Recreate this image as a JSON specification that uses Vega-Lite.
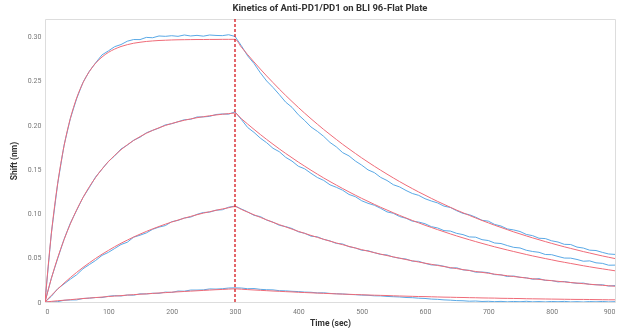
{
  "$schema": "https://vega.github.io/schema/vega-lite/v6.json",
  "width": 570,
  "height": 283,
  "autosize": "none",
  "padding": {"left": 45, "top": 19, "right": 14, "bottom": 31},
  "background": "white",
  "title": {"text": "Kinetics of Anti-PD1/PD1 on BLI 96-Flat Plate", "font": "Roboto", "fontSize": 9.5, "fontWeight": "bold", "color": "#333333", "anchor": "middle", "offset": 6},
  "config": {
    "view": {"stroke": "#dddddd", "strokeWidth": 1},
    "axis": {"grid": false, "domain": false, "ticks": false, "labelFont": "Roboto", "labelFontSize": 7, "labelColor": "#777777", "titleFont": "Roboto", "titleFontSize": 8.5, "titleFontWeight": "bold", "titleColor": "#333333"}
  },
  "datasets": {
    "curves": [
      {"c":"A","t":0,"f":0,"o":0},{"c":"A","t":10,"f":0.0770,"o":0.0776},{"c":"A","t":20,"f":0.1340,"o":0.1336},{"c":"A","t":30,"f":0.1762,"o":0.1770},{"c":"A","t":40,"f":0.2075,"o":0.2073},{"c":"A","t":50,"f":0.2307,"o":0.2300},{"c":"A","t":60,"f":0.2479,"o":0.2484},{"c":"A","t":70,"f":0.2606,"o":0.2609},{"c":"A","t":80,"f":0.2701,"o":0.2705},{"c":"A","t":90,"f":0.2770,"o":0.2794},{"c":"A","t":100,"f":0.2822,"o":0.2839},{"c":"A","t":110,"f":0.2860,"o":0.2887},{"c":"A","t":120,"f":0.2889,"o":0.2911},{"c":"A","t":130,"f":0.2910,"o":0.2949},{"c":"A","t":140,"f":0.2926,"o":0.2968},{"c":"A","t":150,"f":0.2937,"o":0.2967},{"c":"A","t":160,"f":0.2946,"o":0.2992},{"c":"A","t":170,"f":0.2952,"o":0.2988},{"c":"A","t":180,"f":0.2957,"o":0.3008},{"c":"A","t":190,"f":0.2960,"o":0.3004},{"c":"A","t":200,"f":0.2963,"o":0.3011},{"c":"A","t":210,"f":0.2965,"o":0.3004},{"c":"A","t":220,"f":0.2966,"o":0.3019},{"c":"A","t":230,"f":0.2967,"o":0.3008},{"c":"A","t":240,"f":0.2968,"o":0.3015},{"c":"A","t":250,"f":0.2968,"o":0.3006},{"c":"A","t":260,"f":0.2969,"o":0.3019},{"c":"A","t":270,"f":0.2969,"o":0.3014},{"c":"A","t":280,"f":0.2970,"o":0.3012},{"c":"A","t":290,"f":0.2970,"o":0.3022},{"c":"A","t":300,"f":0.2970,"o":0.3003},
      {"c":"A","t":310,"f":0.2882,"o":0.2898},{"c":"A","t":320,"f":0.2797,"o":0.2783},{"c":"A","t":330,"f":0.2714,"o":0.2697},{"c":"A","t":340,"f":0.2634,"o":0.2592},{"c":"A","t":350,"f":0.2556,"o":0.2499},{"c":"A","t":360,"f":0.2481,"o":0.2426},{"c":"A","t":370,"f":0.2407,"o":0.2345},{"c":"A","t":380,"f":0.2336,"o":0.2260},{"c":"A","t":390,"f":0.2267,"o":0.2201},{"c":"A","t":400,"f":0.2200,"o":0.2117},{"c":"A","t":410,"f":0.2135,"o":0.2052},{"c":"A","t":420,"f":0.2072,"o":0.1979},{"c":"A","t":430,"f":0.2011,"o":0.1930},{"c":"A","t":440,"f":0.1951,"o":0.1873},{"c":"A","t":450,"f":0.1894,"o":0.1804},{"c":"A","t":460,"f":0.1838,"o":0.1754},{"c":"A","t":470,"f":0.1783,"o":0.1689},{"c":"A","t":480,"f":0.1731,"o":0.1652},{"c":"A","t":490,"f":0.1680,"o":0.1594},{"c":"A","t":500,"f":0.1630,"o":0.1548},{"c":"A","t":510,"f":0.1582,"o":0.1494},{"c":"A","t":520,"f":0.1535,"o":0.1463},{"c":"A","t":530,"f":0.1490,"o":0.1409},{"c":"A","t":540,"f":0.1446,"o":0.1374},{"c":"A","t":550,"f":0.1403,"o":0.1326},{"c":"A","t":560,"f":0.1361,"o":0.1301},{"c":"A","t":570,"f":0.1321,"o":0.1261},{"c":"A","t":580,"f":0.1282,"o":0.1227},{"c":"A","t":590,"f":0.1244,"o":0.1206},{"c":"A","t":600,"f":0.1208,"o":0.1168},{"c":"A","t":610,"f":0.1172,"o":0.1142},{"c":"A","t":620,"f":0.1137,"o":0.1120},{"c":"A","t":630,"f":0.1104,"o":0.1084},{"c":"A","t":640,"f":0.1071,"o":0.1069},{"c":"A","t":650,"f":0.1039,"o":0.1032},{"c":"A","t":660,"f":0.1009,"o":0.1002},{"c":"A","t":670,"f":0.0979,"o":0.0987},{"c":"A","t":680,"f":0.0950,"o":0.0959},{"c":"A","t":690,"f":0.0922,"o":0.0924},{"c":"A","t":700,"f":0.0895,"o":0.0914},{"c":"A","t":710,"f":0.0868,"o":0.0877},{"c":"A","t":720,"f":0.0843,"o":0.0859},{"c":"A","t":730,"f":0.0818,"o":0.0826},{"c":"A","t":740,"f":0.0793,"o":0.0815},{"c":"A","t":750,"f":0.0770,"o":0.0797},{"c":"A","t":760,"f":0.0747,"o":0.0764},{"c":"A","t":770,"f":0.0725,"o":0.0750},{"c":"A","t":780,"f":0.0704,"o":0.0721},{"c":"A","t":790,"f":0.0683,"o":0.0717},{"c":"A","t":800,"f":0.0663,"o":0.0692},{"c":"A","t":810,"f":0.0643,"o":0.0678},{"c":"A","t":820,"f":0.0624,"o":0.0652},{"c":"A","t":830,"f":0.0606,"o":0.0650},{"c":"A","t":840,"f":0.0588,"o":0.0621},{"c":"A","t":850,"f":0.0570,"o":0.0610},{"c":"A","t":860,"f":0.0554,"o":0.0586},{"c":"A","t":870,"f":0.0537,"o":0.0582},{"c":"A","t":880,"f":0.0521,"o":0.0561},{"c":"A","t":890,"f":0.0506,"o":0.0543},{"c":"A","t":900,"f":0.0491,"o":0.0538},
      {"c":"B","t":0,"f":0,"o":0},{"c":"B","t":10,"f":0.0266,"o":0.0268},{"c":"B","t":20,"f":0.0499,"o":0.0491},{"c":"B","t":30,"f":0.0704,"o":0.0708},{"c":"B","t":40,"f":0.0884,"o":0.0891},{"c":"B","t":50,"f":0.1042,"o":0.1037},{"c":"B","t":60,"f":0.1181,"o":0.1182},{"c":"B","t":70,"f":0.1303,"o":0.1294},{"c":"B","t":80,"f":0.1409,"o":0.1415},{"c":"B","t":90,"f":0.1503,"o":0.1502},{"c":"B","t":100,"f":0.1586,"o":0.1589},{"c":"B","t":110,"f":0.1658,"o":0.1652},{"c":"B","t":120,"f":0.1722,"o":0.1730},{"c":"B","t":130,"f":0.1778,"o":0.1774},{"c":"B","t":140,"f":0.1827,"o":0.1829},{"c":"B","t":150,"f":0.1870,"o":0.1863},{"c":"B","t":160,"f":0.1908,"o":0.1913},{"c":"B","t":170,"f":0.1941,"o":0.1941},{"c":"B","t":180,"f":0.1970,"o":0.1967},{"c":"B","t":190,"f":0.1996,"o":0.2003},{"c":"B","t":200,"f":0.2018,"o":0.2016},{"c":"B","t":210,"f":0.2038,"o":0.2038},{"c":"B","t":220,"f":0.2055,"o":0.2061},{"c":"B","t":230,"f":0.2070,"o":0.2066},{"c":"B","t":240,"f":0.2084,"o":0.2092},{"c":"B","t":250,"f":0.2095,"o":0.2093},{"c":"B","t":260,"f":0.2106,"o":0.2099},{"c":"B","t":270,"f":0.2115,"o":0.2120},{"c":"B","t":280,"f":0.2123,"o":0.2126},{"c":"B","t":290,"f":0.2130,"o":0.2124},{"c":"B","t":300,"f":0.2136,"o":0.2150},
      {"c":"B","t":310,"f":0.2073,"o":0.2064},{"c":"B","t":320,"f":0.2012,"o":0.1973},{"c":"B","t":330,"f":0.1952,"o":0.1918},{"c":"B","t":340,"f":0.1894,"o":0.1853},{"c":"B","t":350,"f":0.1838,"o":0.1801},{"c":"B","t":360,"f":0.1784,"o":0.1738},{"c":"B","t":370,"f":0.1731,"o":0.1699},{"c":"B","t":380,"f":0.1680,"o":0.1636},{"c":"B","t":390,"f":0.1631,"o":0.1593},{"c":"B","t":400,"f":0.1582,"o":0.1535},{"c":"B","t":410,"f":0.1536,"o":0.1506},{"c":"B","t":420,"f":0.1490,"o":0.1455},{"c":"B","t":430,"f":0.1446,"o":0.1408},{"c":"B","t":440,"f":0.1403,"o":0.1375},{"c":"B","t":450,"f":0.1362,"o":0.1325},{"c":"B","t":460,"f":0.1322,"o":0.1297},{"c":"B","t":470,"f":0.1283,"o":0.1264},{"c":"B","t":480,"f":0.1245,"o":0.1216},{"c":"B","t":490,"f":0.1208,"o":0.1191},{"c":"B","t":500,"f":0.1172,"o":0.1145},{"c":"B","t":510,"f":0.1138,"o":0.1116},{"c":"B","t":520,"f":0.1104,"o":0.1094},{"c":"B","t":530,"f":0.1071,"o":0.1059},{"c":"B","t":540,"f":0.1040,"o":0.1019},{"c":"B","t":550,"f":0.1009,"o":0.1003},{"c":"B","t":560,"f":0.0979,"o":0.0966},{"c":"B","t":570,"f":0.0950,"o":0.0947},{"c":"B","t":580,"f":0.0922,"o":0.0914},{"c":"B","t":590,"f":0.0895,"o":0.0904},{"c":"B","t":600,"f":0.0868,"o":0.0885},{"c":"B","t":610,"f":0.0843,"o":0.0852},{"c":"B","t":620,"f":0.0818,"o":0.0837},{"c":"B","t":630,"f":0.0794,"o":0.0807},{"c":"B","t":640,"f":0.0770,"o":0.0802},{"c":"B","t":650,"f":0.0747,"o":0.0776},{"c":"B","t":660,"f":0.0725,"o":0.0762},{"c":"B","t":670,"f":0.0704,"o":0.0736},{"c":"B","t":680,"f":0.0683,"o":0.0733},{"c":"B","t":690,"f":0.0663,"o":0.0705},{"c":"B","t":700,"f":0.0643,"o":0.0695},{"c":"B","t":710,"f":0.0624,"o":0.0667},{"c":"B","t":720,"f":0.0606,"o":0.0661},{"c":"B","t":730,"f":0.0588,"o":0.0638},{"c":"B","t":740,"f":0.0571,"o":0.0618},{"c":"B","t":750,"f":0.0554,"o":0.0611},{"c":"B","t":760,"f":0.0537,"o":0.0585},{"c":"B","t":770,"f":0.0521,"o":0.0571},{"c":"B","t":780,"f":0.0506,"o":0.0562},{"c":"B","t":790,"f":0.0491,"o":0.0537},{"c":"B","t":800,"f":0.0477,"o":0.0535},{"c":"B","t":810,"f":0.0462,"o":0.0515},{"c":"B","t":820,"f":0.0449,"o":0.0497},{"c":"B","t":830,"f":0.0436,"o":0.0496},{"c":"B","t":840,"f":0.0423,"o":0.0481},{"c":"B","t":850,"f":0.0410,"o":0.0461},{"c":"B","t":860,"f":0.0398,"o":0.0465},{"c":"B","t":870,"f":0.0386,"o":0.0443},{"c":"B","t":880,"f":0.0375,"o":0.0437},{"c":"B","t":890,"f":0.0364,"o":0.0416},{"c":"B","t":900,"f":0.0353,"o":0.0417},
      {"c":"C","t":0,"f":0,"o":0},{"c":"C","t":10,"f":0.0075,"o":0.0064},{"c":"C","t":20,"f":0.0146,"o":0.0149},{"c":"C","t":30,"f":0.0213,"o":0.0204},{"c":"C","t":40,"f":0.0276,"o":0.0258},{"c":"C","t":50,"f":0.0335,"o":0.0308},{"c":"C","t":60,"f":0.0391,"o":0.0376},{"c":"C","t":70,"f":0.0443,"o":0.0423},{"c":"C","t":80,"f":0.0493,"o":0.0470},{"c":"C","t":90,"f":0.0540,"o":0.0527},{"c":"C","t":100,"f":0.0583,"o":0.0561},{"c":"C","t":110,"f":0.0625,"o":0.0605},{"c":"C","t":120,"f":0.0664,"o":0.0650},{"c":"C","t":130,"f":0.0700,"o":0.0676},{"c":"C","t":140,"f":0.0735,"o":0.0733},{"c":"C","t":150,"f":0.0767,"o":0.0755},{"c":"C","t":160,"f":0.0798,"o":0.0781},{"c":"C","t":170,"f":0.0827,"o":0.0822},{"c":"C","t":180,"f":0.0854,"o":0.0847},{"c":"C","t":190,"f":0.0880,"o":0.0864},{"c":"C","t":200,"f":0.0904,"o":0.0908},{"c":"C","t":210,"f":0.0926,"o":0.0923},{"c":"C","t":220,"f":0.0948,"o":0.0950},{"c":"C","t":230,"f":0.0968,"o":0.0960},{"c":"C","t":240,"f":0.0987,"o":0.0991},{"c":"C","t":250,"f":0.1005,"o":0.1012},{"c":"C","t":260,"f":0.1021,"o":0.1016},{"c":"C","t":270,"f":0.1037,"o":0.1038},{"c":"C","t":280,"f":0.1052,"o":0.1043},{"c":"C","t":290,"f":0.1066,"o":0.1072},{"c":"C","t":300,"f":0.1079,"o":0.1085},
      {"c":"C","t":310,"f":0.1047,"o":0.1052},{"c":"C","t":320,"f":0.1016,"o":0.1019},{"c":"C","t":330,"f":0.0986,"o":0.0980},{"c":"C","t":340,"f":0.0957,"o":0.0966},{"c":"C","t":350,"f":0.0929,"o":0.0926},{"c":"C","t":360,"f":0.0901,"o":0.0903},{"c":"C","t":370,"f":0.0875,"o":0.0867},{"c":"C","t":380,"f":0.0849,"o":0.0853},{"c":"C","t":390,"f":0.0824,"o":0.0831},{"c":"C","t":400,"f":0.0799,"o":0.0794},{"c":"C","t":410,"f":0.0776,"o":0.0777},{"c":"C","t":420,"f":0.0753,"o":0.0744},{"c":"C","t":430,"f":0.0731,"o":0.0737},{"c":"C","t":440,"f":0.0709,"o":0.0708},{"c":"C","t":450,"f":0.0688,"o":0.0691},{"c":"C","t":460,"f":0.0668,"o":0.0662},{"c":"C","t":470,"f":0.0648,"o":0.0656},{"c":"C","t":480,"f":0.0629,"o":0.0625},{"c":"C","t":490,"f":0.0610,"o":0.0612},{"c":"C","t":500,"f":0.0592,"o":0.0585},{"c":"C","t":510,"f":0.0575,"o":0.0580},{"c":"C","t":520,"f":0.0558,"o":0.0558},{"c":"C","t":530,"f":0.0541,"o":0.0538},{"c":"C","t":540,"f":0.0525,"o":0.0532},{"c":"C","t":550,"f":0.0510,"o":0.0508},{"c":"C","t":560,"f":0.0495,"o":0.0495},{"c":"C","t":570,"f":0.0480,"o":0.0486},{"c":"C","t":580,"f":0.0466,"o":0.0462},{"c":"C","t":590,"f":0.0452,"o":0.0460},{"c":"C","t":600,"f":0.0439,"o":0.0437},{"c":"C","t":610,"f":0.0426,"o":0.0419},{"c":"C","t":620,"f":0.0413,"o":0.0418},{"c":"C","t":630,"f":0.0401,"o":0.0404},{"c":"C","t":640,"f":0.0389,"o":0.0383},{"c":"C","t":650,"f":0.0378,"o":0.0387},{"c":"C","t":660,"f":0.0366,"o":0.0363},{"c":"C","t":670,"f":0.0356,"o":0.0358},{"c":"C","t":680,"f":0.0345,"o":0.0337},{"c":"C","t":690,"f":0.0335,"o":0.0339},{"c":"C","t":700,"f":0.0325,"o":0.0332},{"c":"C","t":710,"f":0.0315,"o":0.0310},{"c":"C","t":720,"f":0.0306,"o":0.0307},{"c":"C","t":730,"f":0.0297,"o":0.0288},{"c":"C","t":740,"f":0.0288,"o":0.0294},{"c":"C","t":750,"f":0.0280,"o":0.0279},{"c":"C","t":760,"f":0.0271,"o":0.0274},{"c":"C","t":770,"f":0.0263,"o":0.0257},{"c":"C","t":780,"f":0.0256,"o":0.0264},{"c":"C","t":790,"f":0.0248,"o":0.0244},{"c":"C","t":800,"f":0.0241,"o":0.0243},{"c":"C","t":810,"f":0.0234,"o":0.0227},{"c":"C","t":820,"f":0.0227,"o":0.0232},{"c":"C","t":830,"f":0.0220,"o":0.0220},{"c":"C","t":840,"f":0.0214,"o":0.0211},{"c":"C","t":850,"f":0.0207,"o":0.0214},{"c":"C","t":860,"f":0.0201,"o":0.0199},{"c":"C","t":870,"f":0.0195,"o":0.0195},{"c":"C","t":880,"f":0.0189,"o":0.0195},{"c":"C","t":890,"f":0.0184,"o":0.0180},{"c":"C","t":900,"f":0.0178,"o":0.0186},
      {"c":"D","t":0,"f":0,"o":0},{"c":"D","t":10,"f":0.0007,"o":0.0001},{"c":"D","t":20,"f":0.0014,"o":0.0004},{"c":"D","t":30,"f":0.0020,"o":0.0019},{"c":"D","t":40,"f":0.0026,"o":0.0023},{"c":"D","t":50,"f":0.0033,"o":0.0024},{"c":"D","t":60,"f":0.0039,"o":0.0040},{"c":"D","t":70,"f":0.0045,"o":0.0043},{"c":"D","t":80,"f":0.0050,"o":0.0051},{"c":"D","t":90,"f":0.0056,"o":0.0050},{"c":"D","t":100,"f":0.0062,"o":0.0065},{"c":"D","t":110,"f":0.0067,"o":0.0072},{"c":"D","t":120,"f":0.0072,"o":0.0068},{"c":"D","t":130,"f":0.0078,"o":0.0079},{"c":"D","t":140,"f":0.0083,"o":0.0077},{"c":"D","t":150,"f":0.0088,"o":0.0092},{"c":"D","t":160,"f":0.0092,"o":0.0091},{"c":"D","t":170,"f":0.0097,"o":0.0099},{"c":"D","t":180,"f":0.0102,"o":0.0098},{"c":"D","t":190,"f":0.0106,"o":0.0112},{"c":"D","t":200,"f":0.0111,"o":0.0108},{"c":"D","t":210,"f":0.0115,"o":0.0124},{"c":"D","t":220,"f":0.0119,"o":0.0122},{"c":"D","t":230,"f":0.0123,"o":0.0135},{"c":"D","t":240,"f":0.0127,"o":0.0135},{"c":"D","t":250,"f":0.0131,"o":0.0137},{"c":"D","t":260,"f":0.0135,"o":0.0148},{"c":"D","t":270,"f":0.0139,"o":0.0146},{"c":"D","t":280,"f":0.0142,"o":0.0150},{"c":"D","t":290,"f":0.0146,"o":0.0158},{"c":"D","t":300,"f":0.0149,"o":0.0160},
      {"c":"D","t":310,"f":0.0145,"o":0.0158},{"c":"D","t":320,"f":0.0140,"o":0.0150},{"c":"D","t":330,"f":0.0136,"o":0.0152},{"c":"D","t":340,"f":0.0132,"o":0.0143},{"c":"D","t":350,"f":0.0128,"o":0.0139},{"c":"D","t":360,"f":0.0124,"o":0.0137},{"c":"D","t":370,"f":0.0121,"o":0.0128},{"c":"D","t":380,"f":0.0117,"o":0.0126},{"c":"D","t":390,"f":0.0114,"o":0.0121},{"c":"D","t":400,"f":0.0110,"o":0.0118},{"c":"D","t":410,"f":0.0107,"o":0.0112},{"c":"D","t":420,"f":0.0104,"o":0.0110},{"c":"D","t":430,"f":0.0101,"o":0.0103},{"c":"D","t":440,"f":0.0098,"o":0.0104},{"c":"D","t":450,"f":0.0095,"o":0.0097},{"c":"D","t":460,"f":0.0092,"o":0.0093},{"c":"D","t":470,"f":0.0089,"o":0.0091},{"c":"D","t":480,"f":0.0087,"o":0.0085},{"c":"D","t":490,"f":0.0084,"o":0.0083},{"c":"D","t":500,"f":0.0082,"o":0.0078},{"c":"D","t":510,"f":0.0079,"o":0.0076},{"c":"D","t":520,"f":0.0077,"o":0.0070},{"c":"D","t":530,"f":0.0075,"o":0.0069},{"c":"D","t":540,"f":0.0073,"o":0.0063},{"c":"D","t":550,"f":0.0070,"o":0.0060},{"c":"D","t":560,"f":0.0068,"o":0.0057},{"c":"D","t":570,"f":0.0066,"o":0.0051},{"c":"D","t":580,"f":0.0064,"o":0.0049},{"c":"D","t":590,"f":0.0062,"o":0.0043},{"c":"D","t":600,"f":0.0061,"o":0.0040},{"c":"D","t":610,"f":0.0059,"o":0.0033},{"c":"D","t":620,"f":0.0057,"o":0.0030},{"c":"D","t":630,"f":0.0055,"o":0.0024},{"c":"D","t":640,"f":0.0054,"o":0.0021},{"c":"D","t":650,"f":0.0052,"o":0.0016},{"c":"D","t":660,"f":0.0051,"o":0.0014},{"c":"D","t":670,"f":0.0049,"o":0.0009},{"c":"D","t":680,"f":0.0048,"o":0.0011},{"c":"D","t":690,"f":0.0046,"o":0.0006},{"c":"D","t":700,"f":0.0045,"o":0.0008},{"c":"D","t":710,"f":0.0044,"o":0.0004},{"c":"D","t":720,"f":0.0042,"o":0.0007},{"c":"D","t":730,"f":0.0041,"o":0.0002},{"c":"D","t":740,"f":0.0040,"o":0.0006},{"c":"D","t":750,"f":0.0039,"o":0.0003},{"c":"D","t":760,"f":0.0037,"o":0.0008},{"c":"D","t":770,"f":0.0036,"o":0.0002},{"c":"D","t":780,"f":0.0035,"o":0.0005},{"c":"D","t":790,"f":0.0034,"o":0.0001},{"c":"D","t":800,"f":0.0033,"o":0.0006},{"c":"D","t":810,"f":0.0032,"o":0.0003},{"c":"D","t":820,"f":0.0031,"o":0.0007},{"c":"D","t":830,"f":0.0030,"o":0.0001},{"c":"D","t":840,"f":0.0029,"o":0.0004},{"c":"D","t":850,"f":0.0029,"o":0.0000},{"c":"D","t":860,"f":0.0028,"o":0.0005},{"c":"D","t":870,"f":0.0027,"o":0.0002},{"c":"D","t":880,"f":0.0026,"o":0.0006},{"c":"D","t":890,"f":0.0025,"o":0.0001},{"c":"D","t":900,"f":0.0025,"o":0.0004}
    ],
    "marker": [{"t": 300}]
  },
  "layer": [
    {
      "data": {"name": "curves"},
      "mark": {"type": "line", "color": "#5aa9e6", "strokeWidth": 1, "clip": true},
      "encoding": {
        "x": {"field": "t", "type": "quantitative", "scale": {"domain": [0, 900], "nice": false}, "axis": {"title": "Time (sec)", "values": [0,100,200,300,400,500,600,700,800,900], "labelPadding": 5, "titlePadding": 4}},
        "y": {"field": "o", "type": "quantitative", "scale": {"domain": [0, 0.32], "nice": false}, "axis": {"title": "Shift (nm)", "values": [0,0.05,0.1,0.15,0.2,0.25,0.3], "labelExpr": "datum.value == 0 ? '0' : format(datum.value, '.2f')", "labelPadding": 4, "titlePadding": 9}},
        "detail": {"field": "c"}
      }
    },
    {
      "data": {"name": "curves"},
      "mark": {"type": "line", "color": "#ef6b78", "strokeWidth": 1, "interpolate": "monotone", "blend": "multiply", "clip": true},
      "encoding": {
        "x": {"field": "t", "type": "quantitative"},
        "y": {"field": "f", "type": "quantitative"},
        "detail": {"field": "c"}
      }
    },
    {
      "data": {"name": "marker"},
      "mark": {"type": "rule", "color": "#d4161c", "strokeWidth": 1.3, "strokeDash": [3, 2]},
      "encoding": {"x": {"field": "t", "type": "quantitative"}}
    }
  ]
}
